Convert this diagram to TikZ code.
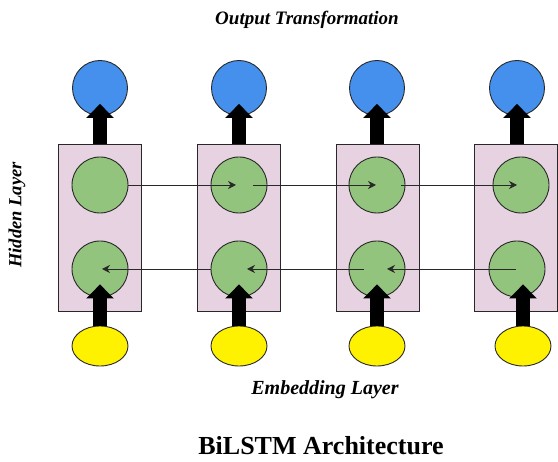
\documentclass[tikz,border=0pt]{standalone}
\usepackage{fontspec}
\setmainfont{Liberation Serif}
\usetikzlibrary{arrows.meta}
\usetikzlibrary{shapes.geometric}
\definecolor{boxpink}{RGB}{230,210,224}
\definecolor{hgreen}{RGB}{147,196,125}
\definecolor{oblue}{RGB}{68,144,236}
\definecolor{eyellow}{RGB}{255,242,0}
\definecolor{edge}{RGB}{40,40,40}
\tikzset{
  cellbox/.style={draw=edge, line width=0.9pt, fill=boxpink, minimum width=83pt, minimum height=167pt, inner sep=0pt},
  hidden/.style={circle, draw=edge, line width=0.9pt, fill=hgreen, minimum size=56pt, inner sep=0pt},
  outnode/.style={circle, draw=edge, line width=0.9pt, fill=oblue, minimum size=55pt, inner sep=0pt},
  embnode/.style={ellipse, draw=edge, line width=0.9pt, fill=eyellow, minimum width=56pt, minimum height=40pt, inner sep=0pt},
  thick arrow/.style={line width=14pt, black, -{Triangle[width=27pt, length=14pt]}},
  thin arrow/.style={line width=0.9pt, edge, -{Stealth[length=8pt, width=8pt]}},
  lbl/.style={inner sep=0pt}
}
\begin{document}
\begin{tikzpicture}[x=1pt, y=-1pt]
\useasboundingbox (0,0) rectangle (558,462);
% boxes
\node[cellbox] (b1) at (100,227.5) {};
\node[cellbox] (b2) at (238.5,227.5) {};
\node[cellbox] (b3) at (377.5,227.5) {};
\node[cellbox] (b4) at (516,227.5) {};
% hidden circles
\node[hidden] (f1) at (100,185) {};
\node[hidden] (f2) at (239,185) {};
\node[hidden] (f3) at (377,185) {};
\node[hidden] (f4) at (521,185) {};
\node[hidden] (g1) at (100,269) {};
\node[hidden] (g2) at (239,269) {};
\node[hidden] (g3) at (377,269) {};
\node[hidden] (g4) at (517,269) {};
% output circles
\node[outnode] (o1) at (100,88) {};
\node[outnode] (o2) at (239,88) {};
\node[outnode] (o3) at (377,88) {};
\node[outnode] (o4) at (517,88) {};
% embedding ellipses
\node[embnode] (e1) at (100,346) {};
\node[embnode] (e2) at (239,346) {};
\node[embnode] (e3) at (377,346) {};
\node[embnode] (e4) at (523,346) {};
% thick arrows up to outputs
\foreach \i in {1,2,3,4}{
  \draw[thick arrow] (b\i.north -| o\i) -- ([yshift=12pt]o\i.south);
}
% thick arrows from embeddings
\foreach \i in {1,2,3,4}{
  \draw[thick arrow] (e\i.north) -- ([yshift=13pt]e\i.north |- g\i.south);
}
% forward thin arrows
\draw[thin arrow] (f1.east) -- ([xshift=-3pt]f2.center);
\draw[thin arrow] ([xshift=14pt]f2.center) -- ([xshift=-1pt]f3.center);
\draw[thin arrow] ([xshift=24pt]f3.center) -- ([xshift=-4pt]f4.center);
% backward thin arrows
\draw[thin arrow] ([xshift=-1pt]g4.center) -- ([xshift=10pt]g3.center);
\draw[thin arrow] ([xshift=-13pt]g3.center) -- ([xshift=8pt]g2.center);
\draw[thin arrow] (g2.west) -- ([xshift=2pt]g1.center);
% labels
\node[lbl, anchor=base, font=\fontsize{19}{22}\selectfont\bfseries\itshape] (tout) at (307,25) {Output Transformation};
\node[lbl, anchor=base, font=\fontsize{20}{23}\selectfont\bfseries\itshape] (temb) at (325,395) {Embedding Layer};
\node[lbl, rotate=90, font=\fontsize{18.5}{21}\selectfont\bfseries\itshape] (thid) at (17,215) {Hidden Layer};
\node[lbl, anchor=base, font=\fontsize{26}{30}\selectfont\bfseries] (title) at (321,455) {BiLSTM Architecture};
\end{tikzpicture}
\end{document}
